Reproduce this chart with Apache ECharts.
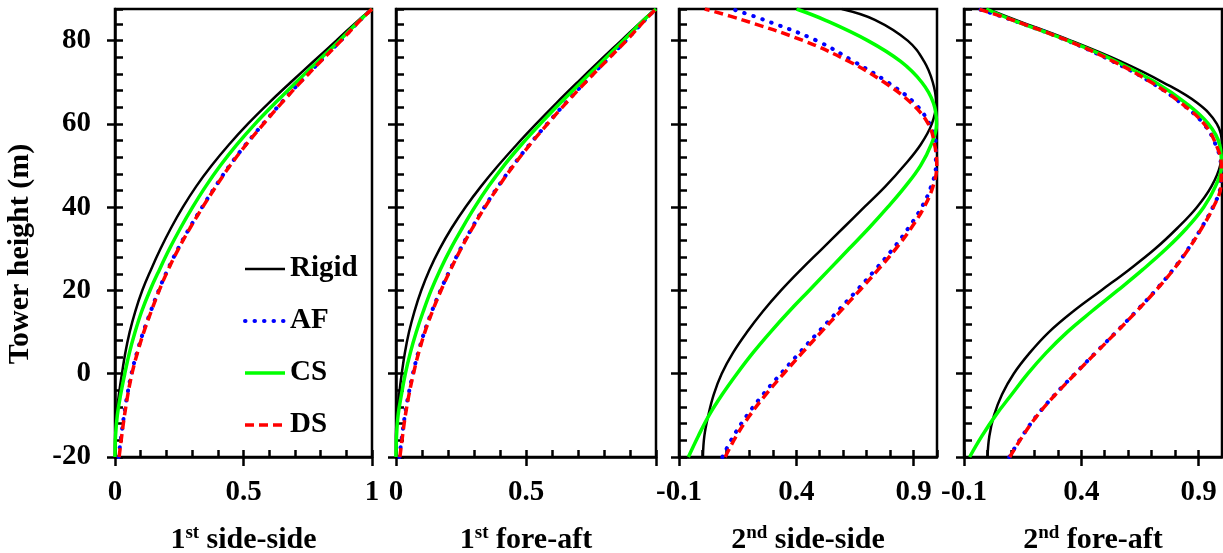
<!DOCTYPE html>
<html>
<head>
<meta charset="utf-8">
<script src="https://cdn.jsdelivr.net/npm/echarts@6/dist/echarts.min.js"></script>
<style>html,body{margin:0;padding:0;background:#fff;}#c{width:1223px;height:553px;}</style>
</head>
<body>
<div id="c"></div>
<script>
// Tower height (m) sample points
const heights = [-20,-15,-10,-5,0,5,10,15,20,25,30,35,40,45,50,55,60,65,70,75,80,85,87.6];

// 1st side-side
const ss1Rigid = [0,0.001,0.006,0.015,0.027,0.040,0.057,0.079,0.106,0.140,0.177,0.218,0.264,0.316,0.376,0.443,0.517,0.598,0.684,0.772,0.861,0.949,1];
const ss1AF    = [0.014,0.024,0.035,0.048,0.064,0.085,0.110,0.139,0.170,0.205,0.245,0.290,0.339,0.391,0.446,0.508,0.576,0.646,0.720,0.798,0.878,0.955,1];
const ss1CS    = [0,0.002,0.009,0.022,0.038,0.056,0.078,0.104,0.136,0.173,0.212,0.255,0.302,0.353,0.410,0.474,0.545,0.623,0.705,0.789,0.873,0.955,1];
const ss1DS    = [0.016,0.026,0.037,0.050,0.066,0.087,0.112,0.141,0.172,0.207,0.247,0.292,0.341,0.393,0.448,0.510,0.578,0.648,0.722,0.800,0.880,0.956,1];

// 1st fore-aft
const fa1Rigid = [0,0,0.004,0.012,0.022,0.034,0.050,0.071,0.097,0.129,0.168,0.214,0.267,0.327,0.393,0.464,0.539,0.617,0.698,0.781,0.866,0.951,1];
const fa1AF    = [0.013,0.023,0.034,0.048,0.065,0.085,0.109,0.138,0.171,0.208,0.248,0.292,0.340,0.393,0.450,0.513,0.581,0.652,0.727,0.805,0.884,0.958,1];
const fa1CS    = [0,0.002,0.008,0.021,0.036,0.055,0.078,0.105,0.135,0.170,0.210,0.255,0.303,0.356,0.415,0.482,0.555,0.632,0.712,0.793,0.874,0.954,1];
const fa1DS    = [0.015,0.025,0.036,0.050,0.067,0.087,0.111,0.140,0.173,0.210,0.250,0.294,0.342,0.395,0.452,0.515,0.583,0.654,0.729,0.807,0.886,0.959,1];

// 2nd side-side
const ss2Rigid = [0.002,0.008,0.025,0.048,0.082,0.130,0.190,0.258,0.335,0.420,0.510,0.600,0.690,0.780,0.860,0.930,0.978,0.996,0.982,0.945,0.875,0.735,0.594];
const ss2AF    = [0.085,0.132,0.190,0.258,0.334,0.413,0.494,0.576,0.658,0.737,0.812,0.878,0.935,0.975,0.995,0.995,0.968,0.904,0.790,0.645,0.487,0.262,0.125];
const ss2CS    = [-0.060,-0.018,0.028,0.084,0.147,0.215,0.290,0.370,0.455,0.540,0.625,0.710,0.790,0.865,0.930,0.975,0.998,0.985,0.935,0.845,0.705,0.520,0.401];
const ss2DS    = [0.097,0.144,0.202,0.270,0.346,0.425,0.506,0.588,0.670,0.749,0.824,0.890,0.945,0.983,0.999,0.990,0.963,0.890,0.775,0.625,0.430,0.170,0.010];

// 2nd fore-aft
const fa2Rigid = [0,0.008,0.028,0.062,0.112,0.180,0.262,0.366,0.485,0.604,0.715,0.810,0.893,0.955,0.992,1.000,0.978,0.895,0.748,0.568,0.355,0.120,0];
const fa2AF    = [0.093,0.148,0.211,0.288,0.373,0.460,0.548,0.634,0.716,0.791,0.856,0.912,0.961,0.993,0.995,0.973,0.922,0.825,0.697,0.535,0.341,0.102,-0.040];
const fa2CS    = [-0.076,-0.024,0.035,0.103,0.172,0.250,0.340,0.445,0.555,0.662,0.762,0.850,0.922,0.972,0.998,0.990,0.942,0.846,0.716,0.550,0.342,0.105,-0.005];
const fa2DS    = [0.095,0.150,0.213,0.290,0.375,0.462,0.550,0.636,0.718,0.793,0.858,0.914,0.963,0.995,0.997,0.975,0.924,0.826,0.698,0.537,0.342,0.104,-0.040];

// Tick labels
const yTickValues = [-20,0,20,40,60,80];
const xTickPanels = [[0,0.5,1],[0,0.5],[-0.1,0.4,0.9],[-0.1,0.4,0.9]];
const xTickMarks  = [[0,0.5,1],[0,0.5,1],[-0.1,0.4,0.9],[-0.1,0.4,0.9]];
const xMins = [0,0,-0.1,-0.1];
const xMaxs = [1,1,1,1];
const panelTitles = [['1','st',' side-side'],['1','st',' fore-aft'],['2','nd',' side-side'],['2','nd',' fore-aft']];
const seriesNames = ['Rigid','AF','CS','DS'];
const panelData = [
  [ss1Rigid, ss1AF, ss1CS, ss1DS],
  [fa1Rigid, fa1AF, fa1CS, fa1DS],
  [ss2Rigid, ss2AF, ss2CS, ss2DS],
  [fa2Rigid, fa2AF, fa2CS, fa2DS]
];

const FONT = "'Liberation Serif','Times New Roman',serif";
const grids = [
  {left:115, top:9, width:257, height:448},
  {left:396, top:9, width:260, height:448},
  {left:679, top:9, width:258, height:448},
  {left:964, top:9, width:258, height:448}
];
const styles = [
  {color:'#000000', lineStyle:{color:'#000000', width:2.5, type:'solid'}},
  {color:'#0000FF', lineStyle:{color:'#0000FF', width:4, type:[0.5,9], cap:'round'}},
  {color:'#00FF00', lineStyle:{color:'#00FF00', width:3.5, type:'solid'}},
  {color:'#FF0000', lineStyle:{color:'#FF0000', width:3.5, type:[9,5]}}
];

const xAxes = [], yAxes = [], series = [];
const labelStyle = {color:'#000', fontFamily:FONT, fontWeight:'bold', fontSize:29};
grids.forEach((g, i) => {
  const t = panelTitles[i];
  xAxes.push({
    gridIndex:i, type:'value', position:'bottom', min:xMins[i], max:xMaxs[i],
    axisLine:{show:true, onZero:false, lineStyle:{color:'#000', width:2.5}},
    axisTick:{show:true, inside:false, length:9, customValues:xTickMarks[i], lineStyle:{color:'#000', width:2.5}},
    axisLabel:Object.assign({show:true, margin:21, customValues:xTickPanels[i]}, labelStyle),
    splitLine:{show:false},
    name:'{b|'+t[0]+'}{s|'+t[1]+'}{b|'+t[2]+'}',
    nameLocation:'middle', nameGap:67,
    nameTextStyle:{rich:{
      b:{fontSize:30, fontWeight:'bold', fontFamily:FONT, color:'#000', lineHeight:32},
      s:{fontSize:19, fontWeight:'bold', fontFamily:FONT, color:'#000', lineHeight:19, verticalAlign:'top'}
    }}
  });
  xAxes.push({
    gridIndex:i, type:'value', position:'bottom', min:xMins[i], max:xMaxs[i], interval:0.1,
    axisLine:{show:false, onZero:false},
    axisTick:{show:true, inside:true, length:7, lineStyle:{color:'#000', width:2.5}},
    axisLabel:{show:false}, splitLine:{show:false}
  });
  yAxes.push({
    gridIndex:i, type:'value', position:'left', min:-20, max:87.6, interval:20,
    axisLine:{show:true, onZero:false, lineStyle:{color:'#000', width:2.5}},
    axisTick:{show:true, inside:false, length:8, customValues:yTickValues, lineStyle:{color:'#000', width:2.5}},
    axisLabel:Object.assign({show:i===0, margin:24, customValues:yTickValues}, labelStyle),
    splitLine:{show:false},
    name: i===0 ? 'Tower height (m)' : '',
    nameLocation:'middle', nameGap:80,
    nameTextStyle:{color:'#000', fontFamily:FONT, fontWeight:'bold', fontSize:30, padding:[0,42,0,0]}
  });
  yAxes.push({
    gridIndex:i, type:'value', position:'left', min:-20, max:87.6, interval:4,
    axisLine:{show:false, onZero:false},
    axisTick:{show:true, inside:true, length:8, lineStyle:{color:'#000', width:2.5}},
    axisLabel:{show:false}, splitLine:{show:false}
  });
  panelData[i].forEach((vals, k) => {
    series.push(Object.assign({
      name:seriesNames[k], type:'line', xAxisIndex:2*i, yAxisIndex:2*i,
      data:heights.map((h, j) => [vals[j], h]),
      showSymbol:false, symbol:'none', smooth:0.4, clip:true, z:2+k
    }, styles[k]));
  });
});

const legendData = seriesNames.map((n, k) => ({
  name:n,
  lineStyle:Object.assign({}, styles[k].lineStyle, {width:[2.5,4,3.5,3.5][k]})
}));

const chart = echarts.init(document.getElementById('c'), null, {renderer:'canvas'});
chart.setOption({
  animation:false,
  backgroundColor:'#fff',
  grid:grids.map(g => Object.assign({show:true, borderColor:'#000', borderWidth:2.5, backgroundColor:'transparent', containLabel:false, outerBoundsMode:'none'}, g)),
  xAxis:xAxes,
  yAxis:yAxes,
  legend:{
    data:legendData, orient:'vertical', left:243, top:254, padding:0,
    itemWidth:40, itemHeight:14, itemGap:22,
    itemStyle:{opacity:0},
    textStyle:{color:'#000', fontFamily:FONT, fontWeight:'bold', fontSize:29, lineHeight:30},
    selectedMode:false
  },
  series:series
});
</script>
</body>
</html>
